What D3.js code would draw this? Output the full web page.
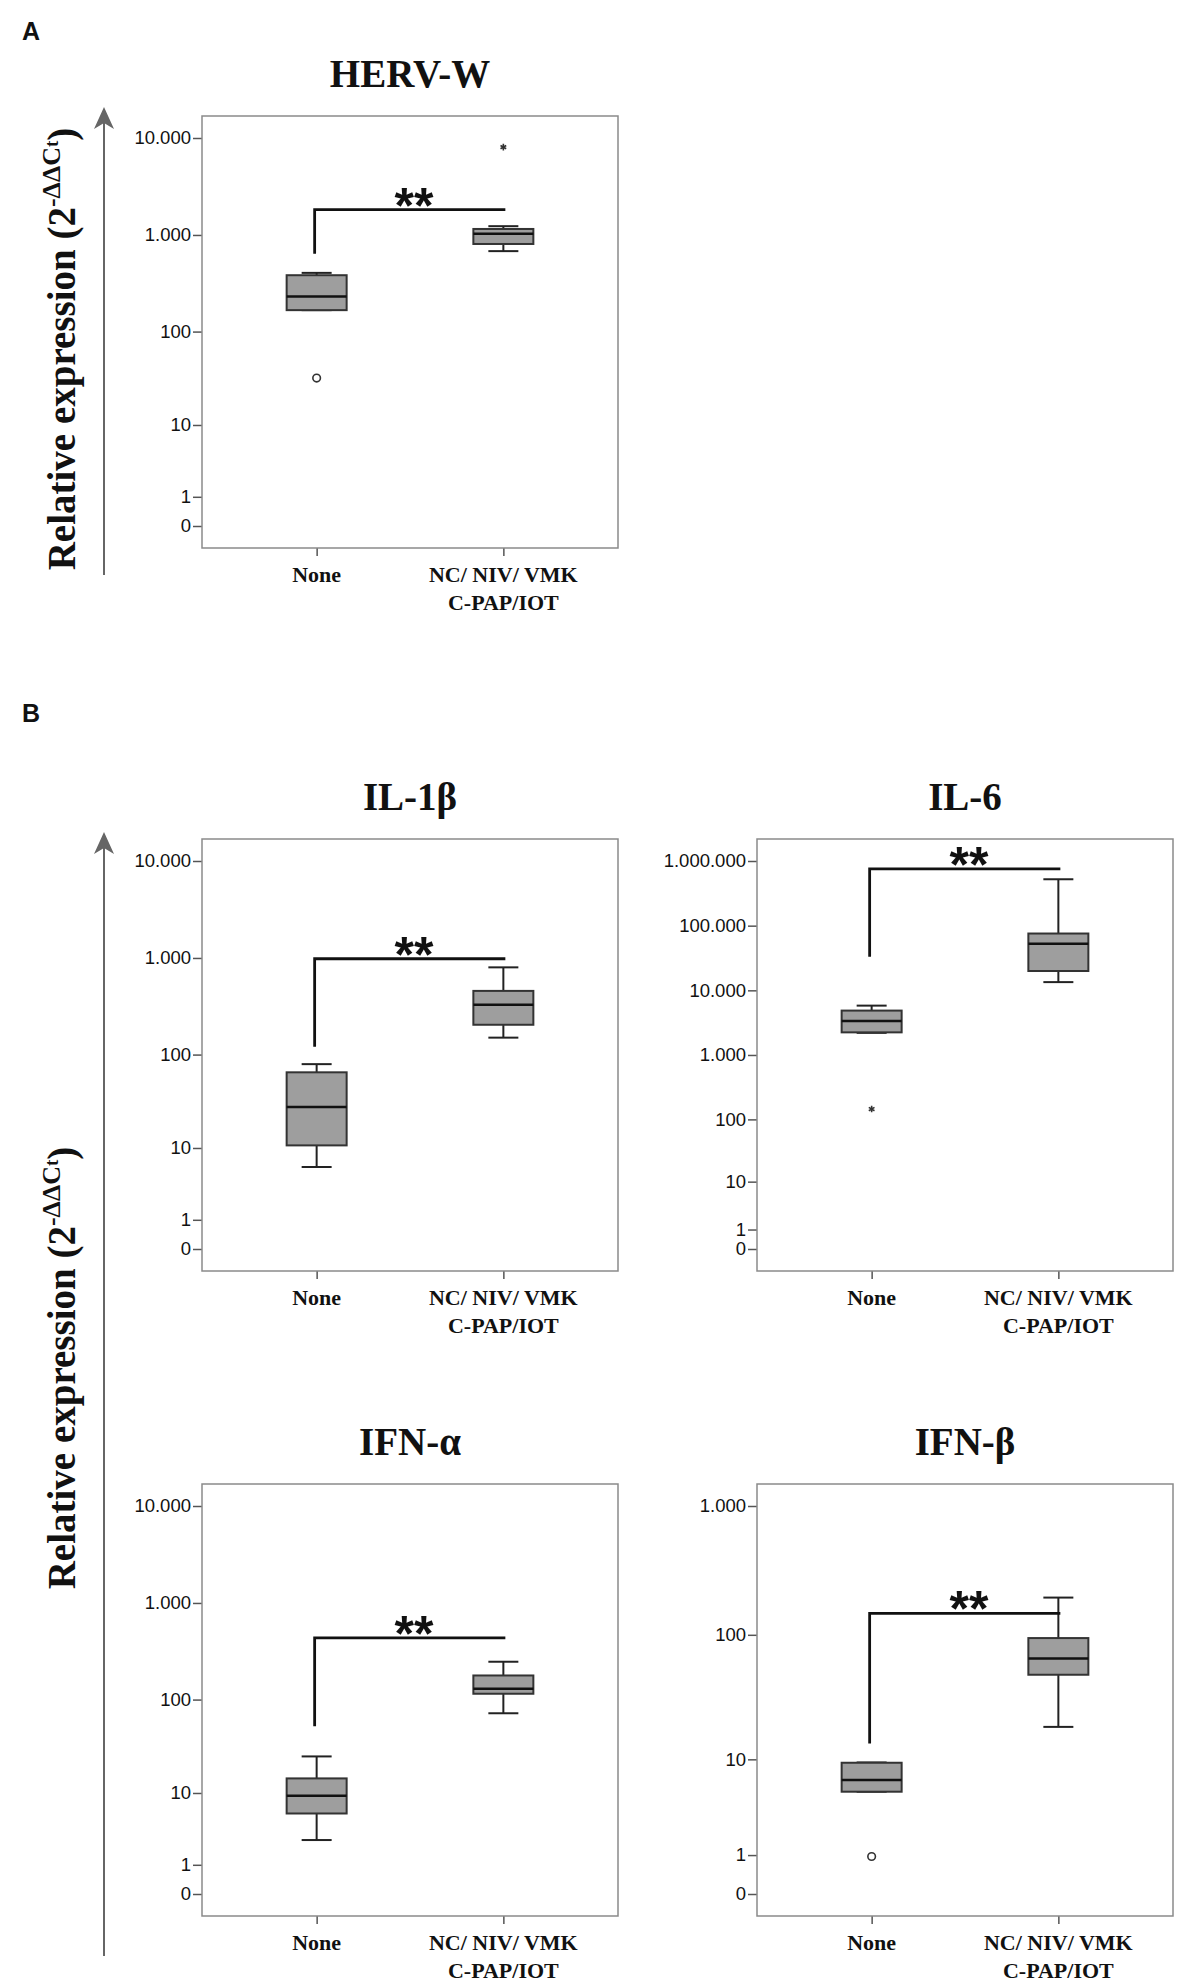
<!DOCTYPE html>
<html>
<head>
<meta charset="utf-8" />
<script src="https://cdn.jsdelivr.net/npm/d3@7"></script>
<style>
  body { margin: 0; background: #fff; }
  svg { display: block; }
  .frame { fill: none; stroke: #8a8a8a; stroke-width: 1.5; }
  .tick line { stroke: #555; stroke-width: 1.5; }
  .ytick text { font-family: "Liberation Sans", Arial, sans-serif; font-size: 18.5px; fill: #111; }
  .xlab { font-family: "Liberation Serif", "Times New Roman", serif; font-weight: bold; font-size: 22px; fill: #111; }
  .title { font-family: "Liberation Serif", "Times New Roman", serif; font-weight: bold; font-size: 39px; fill: #111; }
  .box { fill: #9e9e9e; stroke: #333; stroke-width: 2; }
  .whisker { stroke: #222; stroke-width: 2; }
  .median { stroke: #111; stroke-width: 2.5; }
  .sig { fill: none; stroke: #111; stroke-width: 2.8; }
  .stars { font-family: "Liberation Sans", Arial, sans-serif; font-weight: bold; font-size: 50px; fill: #111; }
  .panel-letter { font-family: "Liberation Sans", Arial, sans-serif; font-weight: bold; font-size: 25px; fill: #111; }
  .ylab { font-family: "Liberation Serif", "Times New Roman", serif; font-weight: bold; font-size: 39px; fill: #111; }
</style>
</head>
<body>
<script>
// groups on the x axis (second one is written on two lines)
var groups = ["None", "NC/ NIV/ VMK C-PAP/IOT"];
var groupLines = [["None"], ["NC/ NIV/ VMK", "C-PAP/IOT"]];

var markers = ["HERV-W", "IL-1β", "IL-6", "IFN-α", "IFN-β"];

// box stats per group: [lower whisker, q1, median, q3, upper whisker]
var hervW = [[167, 167, 231, 384, 406], [681, 807, 1030, 1153, 1232]];
var il1b  = [[6.0, 10.7, 28.1, 65.3, 79.5], [150, 204, 328, 457, 800]];
var il6   = [[2200, 2238, 3360, 4860, 5800], [13400, 19900, 52300, 75600, 522000]];
var ifna  = [[2.6, 5.76, 9.3, 14.55, 25.2], [72, 115, 130, 178, 247]];
var ifnb  = [[5.18, 5.18, 6.6, 9.35, 9.4], [18.6, 48.6, 65.2, 94.3, 195]];

// outliers: [group index, value, kind]
var hervWOut = [[0, 32.5, "circle"], [1, 8050, "star"]];
var il1bOut  = [];
var il6Out   = [[0, 145, "star"]];
var ifnaOut  = [];
var ifnbOut  = [[0, 0.95, "circle"]];

// tick values
var ticks4 = [0, 1, 10, 100, 1000, 10000];
var ticks6 = [0, 1, 10, 100, 1000, 10000, 100000, 1000000];
var ticks3 = [0, 1, 10, 100, 1000];

// significance bracket: [bar level, left leg bottom]
var hervWSig = [1823, 638];
var il1bSig  = [981, 121];
var il6Sig   = [754000, 33100];
var ifnaSig  = [437, 52.5];
var ifnbSig  = [147, 13.6];

var W = 1181, H = 1984;
var svg = d3.select("body").append("svg").attr("width", W).attr("height", H);

var fmt = d3.formatLocale({ decimal: ",", thousands: ".", grouping: [3], currency: ["", ""] }).format(",d");

var bw = 416, bh = 432;
var panels = [
  { name: markers[0], stats: hervW, out: hervWOut, ticks: ticks4, sig: hervWSig, x: 202, y: 116 },
  { name: markers[1], stats: il1b,  out: il1bOut,  ticks: ticks4, sig: il1bSig,  x: 202, y: 839 },
  { name: markers[2], stats: il6,   out: il6Out,   ticks: ticks6, sig: il6Sig,   x: 757, y: 839 },
  { name: markers[3], stats: ifna,  out: ifnaOut,  ticks: ticks4, sig: ifnaSig,  x: 202, y: 1484 },
  { name: markers[4], stats: ifnb,  out: ifnbOut,  ticks: ticks3, sig: ifnbSig,  x: 757, y: 1484 }
];

panels.forEach(drawPanel);

function drawPanel(p) {
  var g = svg.append("g").attr("transform", "translate(" + p.x + "," + p.y + ")");

  var y = d3.scaleSymlog().constant(1)
    .domain([0, d3.max(p.ticks)])
    .range([bh - 22, 22]);
  var x = d3.scalePoint().domain(groups).range([0, bw]).padding(0.614);

  g.append("text").attr("class", "title")
    .attr("x", bw / 2).attr("y", -29)
    .attr("text-anchor", "middle").text(p.name);

  // y axis ticks
  var ya = g.append("g").attr("class", "ytick")
    .call(d3.axisLeft(y).tickValues(p.ticks).tickFormat(fmt).tickSize(9).tickPadding(2));
  ya.select(".domain").remove();

  // x axis ticks
  var xa = g.append("g").attr("transform", "translate(0," + bh + ")")
    .call(d3.axisBottom(x).tickSize(8).tickFormat(""));
  xa.select(".domain").remove();

  g.append("rect").attr("class", "frame").attr("width", bw).attr("height", bh);

  // category labels
  groups.forEach(function (c, i) {
    var t = g.append("text").attr("class", "xlab").attr("text-anchor", "middle");
    groupLines[i].forEach(function (line, j) {
      t.append("tspan").attr("x", x(c)).attr("y", bh + 34 + j * 28).text(line);
    });
  });

  // boxes
  var half = 30, cap = 15;
  var bx = g.selectAll(".bp").data(p.stats).enter().append("g").attr("class", "bp")
    .attr("transform", function (d, i) { return "translate(" + x(groups[i]) + ",0)"; });
  bx.append("line").attr("class", "whisker")
    .attr("y1", function (d) { return y(d[3]); }).attr("y2", function (d) { return y(d[4]); });
  bx.append("line").attr("class", "whisker")
    .attr("y1", function (d) { return y(d[1]); }).attr("y2", function (d) { return y(d[0]); });
  bx.append("line").attr("class", "whisker").attr("x1", -cap).attr("x2", cap)
    .attr("y1", function (d) { return y(d[4]); }).attr("y2", function (d) { return y(d[4]); });
  bx.append("line").attr("class", "whisker").attr("x1", -cap).attr("x2", cap)
    .attr("y1", function (d) { return y(d[0]); }).attr("y2", function (d) { return y(d[0]); });
  bx.append("rect").attr("class", "box").attr("x", -half).attr("width", half * 2)
    .attr("y", function (d) { return y(d[3]); })
    .attr("height", function (d) { return y(d[1]) - y(d[3]); });
  bx.append("line").attr("class", "median").attr("x1", -half).attr("x2", half)
    .attr("y1", function (d) { return y(d[2]); }).attr("y2", function (d) { return y(d[2]); });

  // outliers
  g.selectAll(".out").data(p.out).enter().append("path").attr("class", "out")
    .attr("transform", function (d) { return "translate(" + x(groups[d[0]]) + "," + y(d[1]) + ")"; })
    .attr("d", function (d) {
      return d[2] == "circle" ? d3.symbol(d3.symbolCircle, 45)() : d3.symbol(d3.symbolAsterisk, 30)();
    })
    .attr("fill", function (d) { return d[2] == "circle" ? "#fff" : "none"; })
    .attr("stroke", "#333").attr("stroke-width", 1.6);

  // significance bracket
  var x0 = x(groups[0]) - 2, x1 = x(groups[1]) + 2, ys = y(p.sig[0]);
  g.append("path").attr("class", "sig")
    .attr("d", "M" + x0 + "," + y(p.sig[1]) + "V" + ys + "H" + x1);
  g.append("text").attr("class", "stars").attr("text-anchor", "middle")
    .attr("x", (x0 + x1) / 2 + 4).attr("y", ys + 13).text("**");
}

// panel letters
svg.append("text").attr("class", "panel-letter").attr("x", 22).attr("y", 40).text("A");
svg.append("text").attr("class", "panel-letter").attr("x", 22).attr("y", 722).text("B");

// y axis arrows and labels
function yArrow(yb, yt, cy) {
  svg.append("line").attr("x1", 104).attr("x2", 104).attr("y1", yb).attr("y2", yt + 2)
    .attr("stroke", "#666").attr("stroke-width", 2);
  svg.append("path").attr("d", "M104," + yt + "L94," + (yt + 22) + "L104," + (yt + 16) + "L114," + (yt + 22) + "Z")
    .attr("fill", "#666");
  var t = svg.append("text").attr("class", "ylab").attr("text-anchor", "middle")
    .attr("transform", "translate(75," + cy + ") rotate(-90)");
  t.append("tspan").text("Relative expression (2");
  t.append("tspan").attr("dy", -15).attr("font-size", 26).text("-ΔΔC");
  t.append("tspan").attr("dy", -2).attr("font-size", 19).text("t");
  t.append("tspan").attr("dy", 17).text(")");
}
yArrow(575, 107, 349);
yArrow(1956, 832, 1368);
</script>
</body>
</html>
